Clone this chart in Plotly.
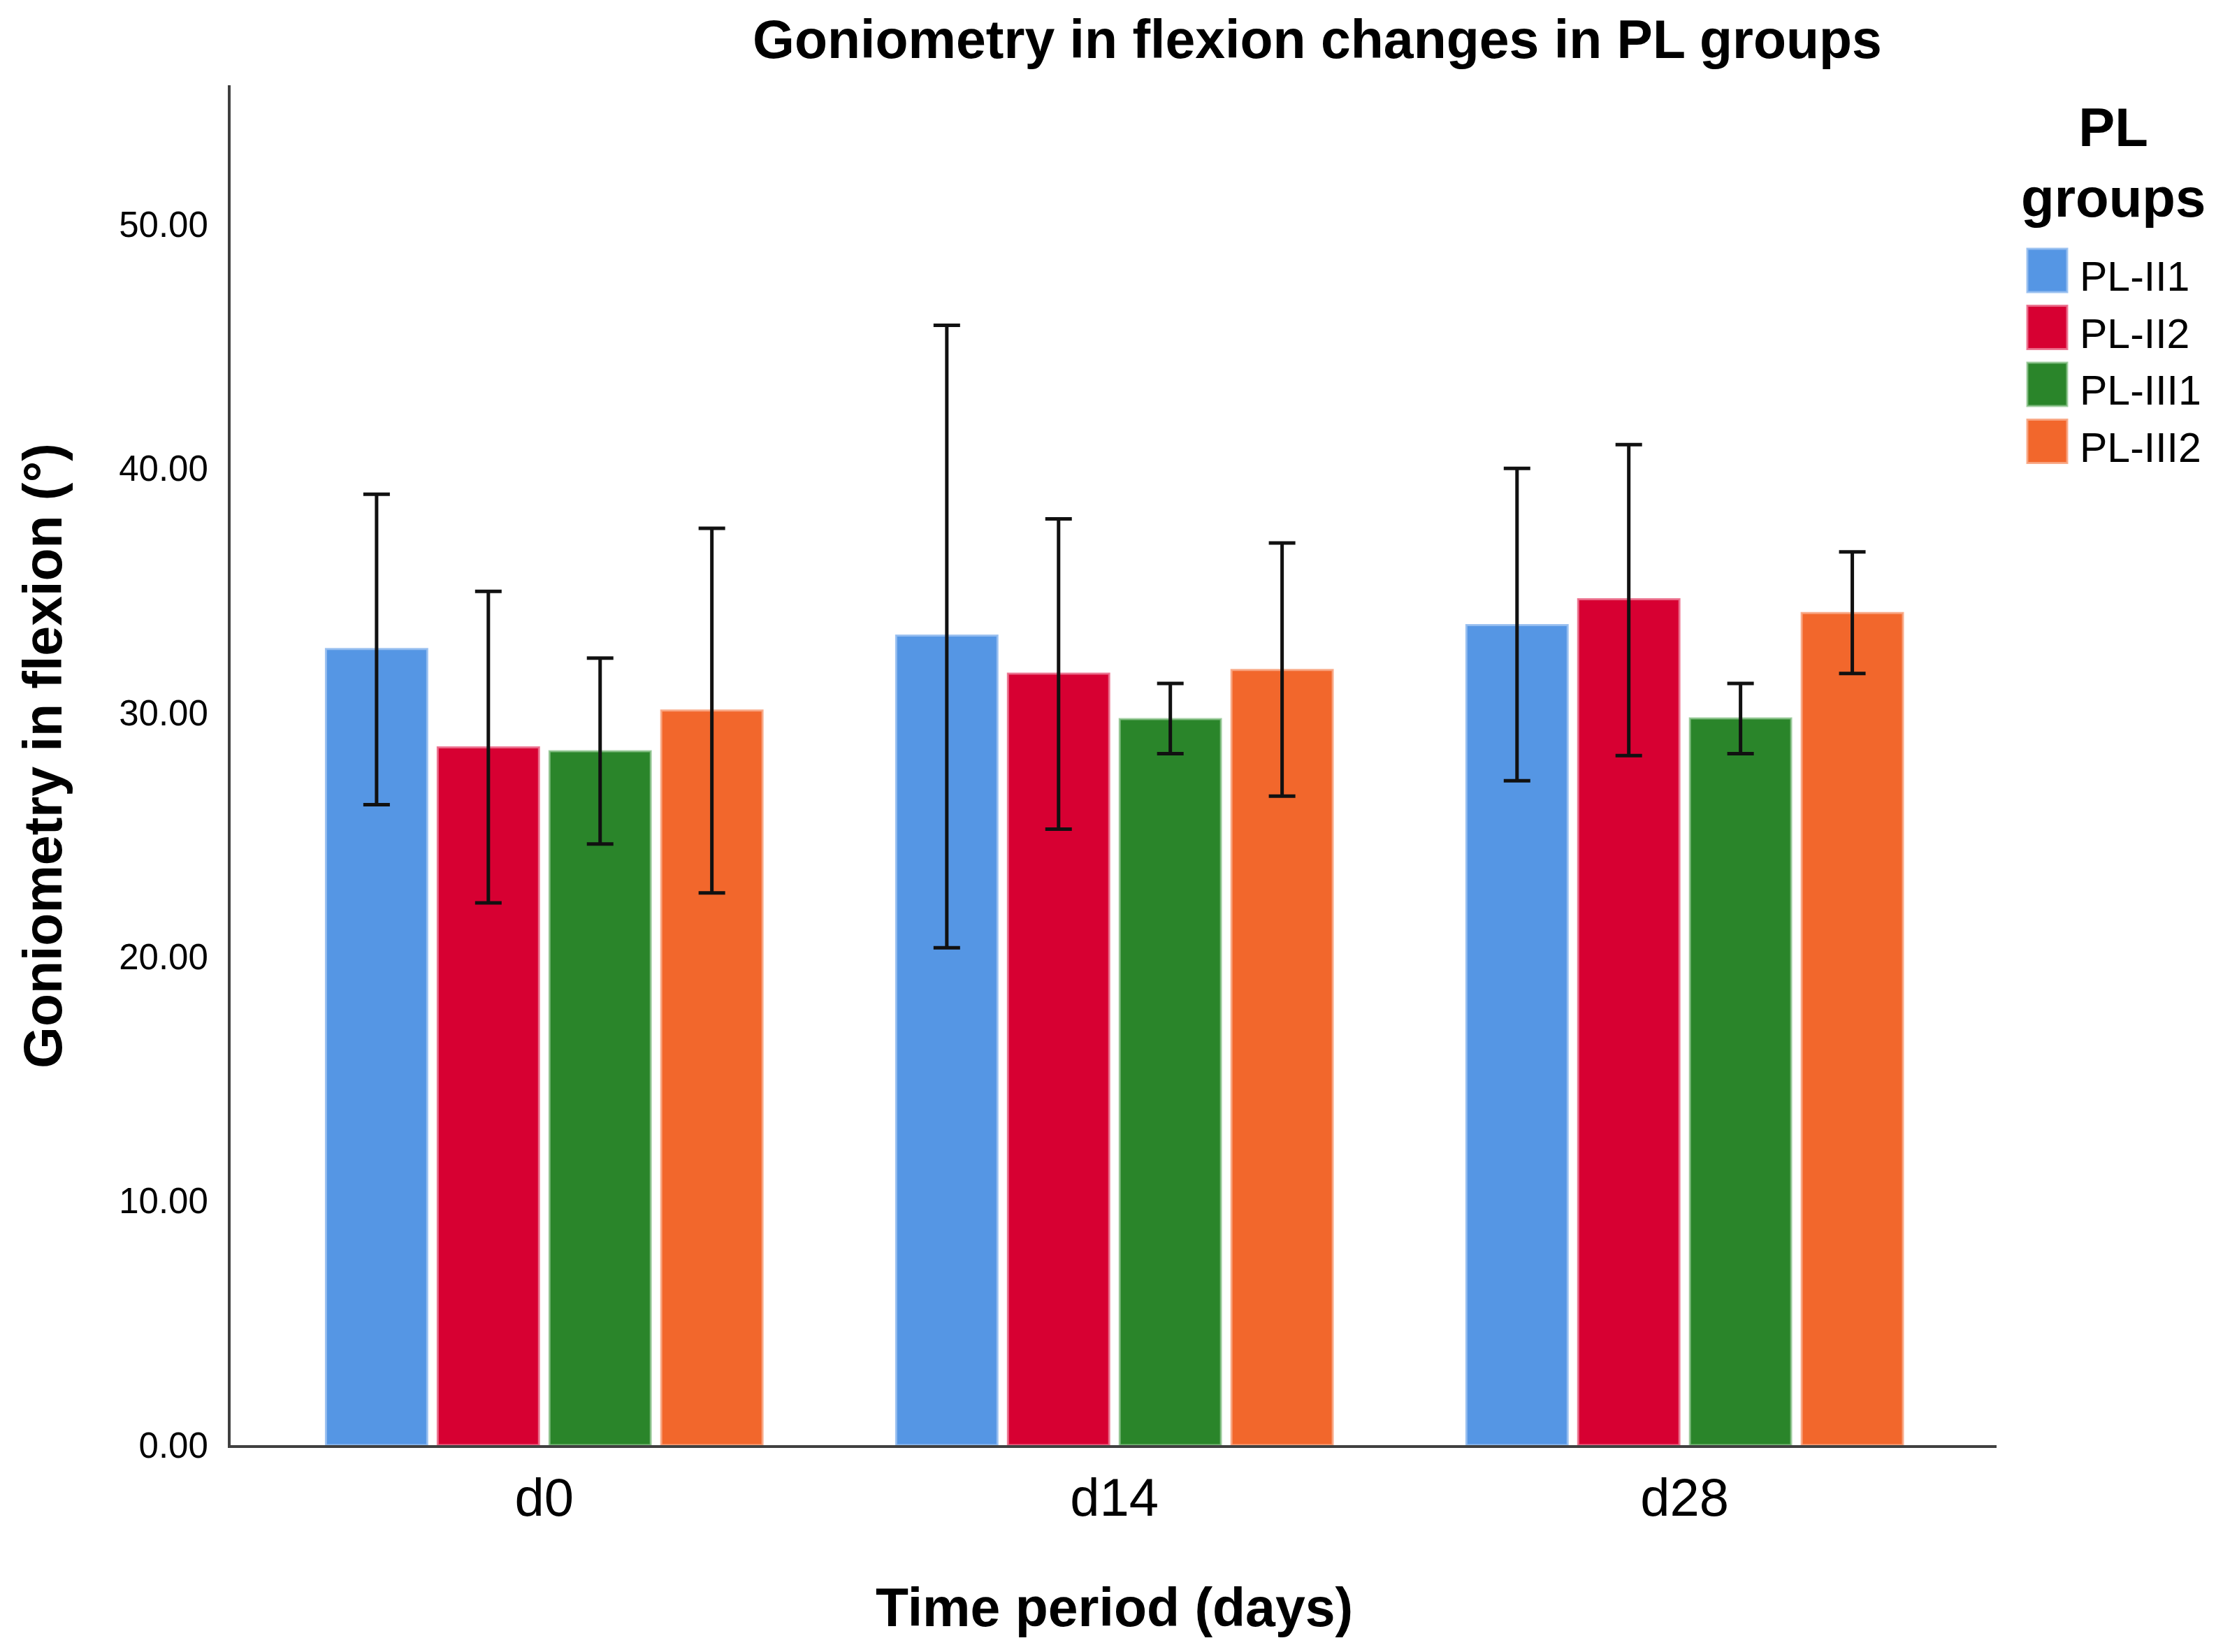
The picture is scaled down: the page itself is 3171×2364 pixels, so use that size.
import plotly.graph_objects as go

# ---------------- data ----------------
categories = ["d0", "d14", "d28"]
groups = ["PL-II1", "PL-II2", "PL-III1", "PL-III2"]

mean_II1 = [32.61, 33.16, 33.59]
mean_II2 = [28.58, 31.60, 34.65]
mean_III1 = [28.42, 29.74, 29.77]
mean_III2 = [30.09, 31.75, 34.08]

upper_II1 = [38.95, 45.87, 40.01]
upper_II2 = [34.97, 37.94, 40.98]
upper_III1 = [32.24, 31.20, 31.20]
upper_III2 = [37.55, 36.95, 36.59]

lower_II1 = [26.23, 20.37, 27.21]
lower_II2 = [22.21, 25.23, 28.24]
lower_III1 = [24.62, 28.32, 28.32]
lower_III2 = [22.62, 26.58, 31.61]

y_tick_values = [0, 10, 20, 30, 40, 50]
y_tick_labels = ["0.00", "10.00", "20.00", "30.00", "40.00", "50.00"]

title_text = "Goniometry in flexion changes in PL groups"
x_title = "Time period (days)"
y_title = "Goniometry in flexion (°)"
legend_title_lines = ["PL", "groups"]

# ---------------- style ----------------
fill_colors = ["#5596E4", "#D70032", "#2A852A", "#F2672C"]
edge_colors = ["rgba(150,190,240,0.9)", "rgba(235,110,140,0.9)",
               "rgba(140,195,140,0.8)", "rgba(248,165,130,0.9)"]
FONT = "Liberation Sans, Arial, sans-serif"

OFF = 8  # page body margin
W, H = 3171 - OFF, 2364 - OFF
L, R, T, B = 330 - OFF, 2857 - OFF, 122 - OFF, 2068 - OFF  # plot area in pixels
PW, PH = R - L, B - T


def px_x(px):
    return (px - OFF - L) / PW


def px_y(py):
    return (B - (py - OFF)) / PH


means = [mean_II1, mean_II2, mean_III1, mean_III2]
uppers = [upper_II1, upper_II2, upper_III1, upper_III2]
lowers = [lower_II1, lower_II2, lower_III1, lower_III2]

fig = go.Figure()
for name, m, u, lo, fc, ec in zip(groups, means, uppers, lowers, fill_colors, edge_colors):
    fig.add_trace(go.Bar(
        name=name,
        x=categories,
        y=m,
        marker=dict(color=fc, line=dict(color=ec, width=3)),
        error_y=dict(
            type="data",
            symmetric=False,
            array=[a - b for a, b in zip(u, m)],
            arrayminus=[b - c for b, c in zip(m, lo)],
            color="#111111",
            thickness=5,
            width=19,
        ),
        showlegend=False,
    ))

BOLD77 = dict(family=FONT, size=77, color="black", weight="bold")
BOLD78 = dict(family=FONT, size=78, color="black", weight="bold")

annotations = [
    dict(text=x_title, x=px_x(1594), y=px_y(2300), xref="paper", yref="paper",
         xanchor="center", yanchor="middle", showarrow=False, font=BOLD77),
    dict(text=y_title, x=px_x(61), y=px_y(1082), xref="paper", yref="paper",
         xanchor="center", yanchor="middle", showarrow=False, textangle=-90, font=BOLD77),
    dict(text="<br>".join(legend_title_lines), x=px_x(3024), y=px_y(232), xref="paper", yref="paper",
         xanchor="center", yanchor="middle", align="center", showarrow=False, font=BOLD78),
]

shapes = []
for i, (name, fc, ec) in enumerate(zip(groups, fill_colors, edge_colors)):
    top = 356 + i * 81.5
    shapes.append(dict(type="rect", xref="paper", yref="paper",
                       x0=px_x(2901), x1=px_x(2958), y0=px_y(top + 62), y1=px_y(top),
                       fillcolor=fc, line=dict(color=ec, width=3)))
    annotations.append(dict(text=name, x=px_x(2974), y=px_y(top + 40), xref="paper", yref="paper",
                            xanchor="left", yanchor="middle", showarrow=False,
                            font=dict(family=FONT, size=59, color="black")))

fig.update_layout(
    width=W, height=H,
    margin=dict(l=L, r=W - R, t=T, b=H - B, pad=0),
    paper_bgcolor="white", plot_bgcolor="white",
    barmode="group", bargap=0.216, bargroupgap=0.094,
    font=dict(family=FONT, color="black"),
    showlegend=False,
    title=dict(
        text=title_text,
        x=(1885 - OFF) / W, xref="container", xanchor="center",
        y=1 - (56 - OFF) / H, yref="container", yanchor="middle",
        font=BOLD77,
    ),
    annotations=annotations,
    shapes=shapes,
    xaxis=dict(
        type="category", range=[-0.55, 2.547],
        showline=True, linecolor="#404040", linewidth=4,
        showgrid=False, zeroline=False, ticks="",
        tickfont=dict(family=FONT, size=76, color="black"),
        ticklabelstandoff=6,
    ),
    yaxis=dict(
        range=[0, 55.7],
        tickvals=y_tick_values, ticktext=y_tick_labels,
        showline=True, linecolor="#404040", linewidth=4,
        showgrid=False, zeroline=False, ticks="",
        tickfont=dict(family=FONT, size=51, color="black"),
        ticklabelstandoff=18,
    ),
)

fig.write_html("out.html")
